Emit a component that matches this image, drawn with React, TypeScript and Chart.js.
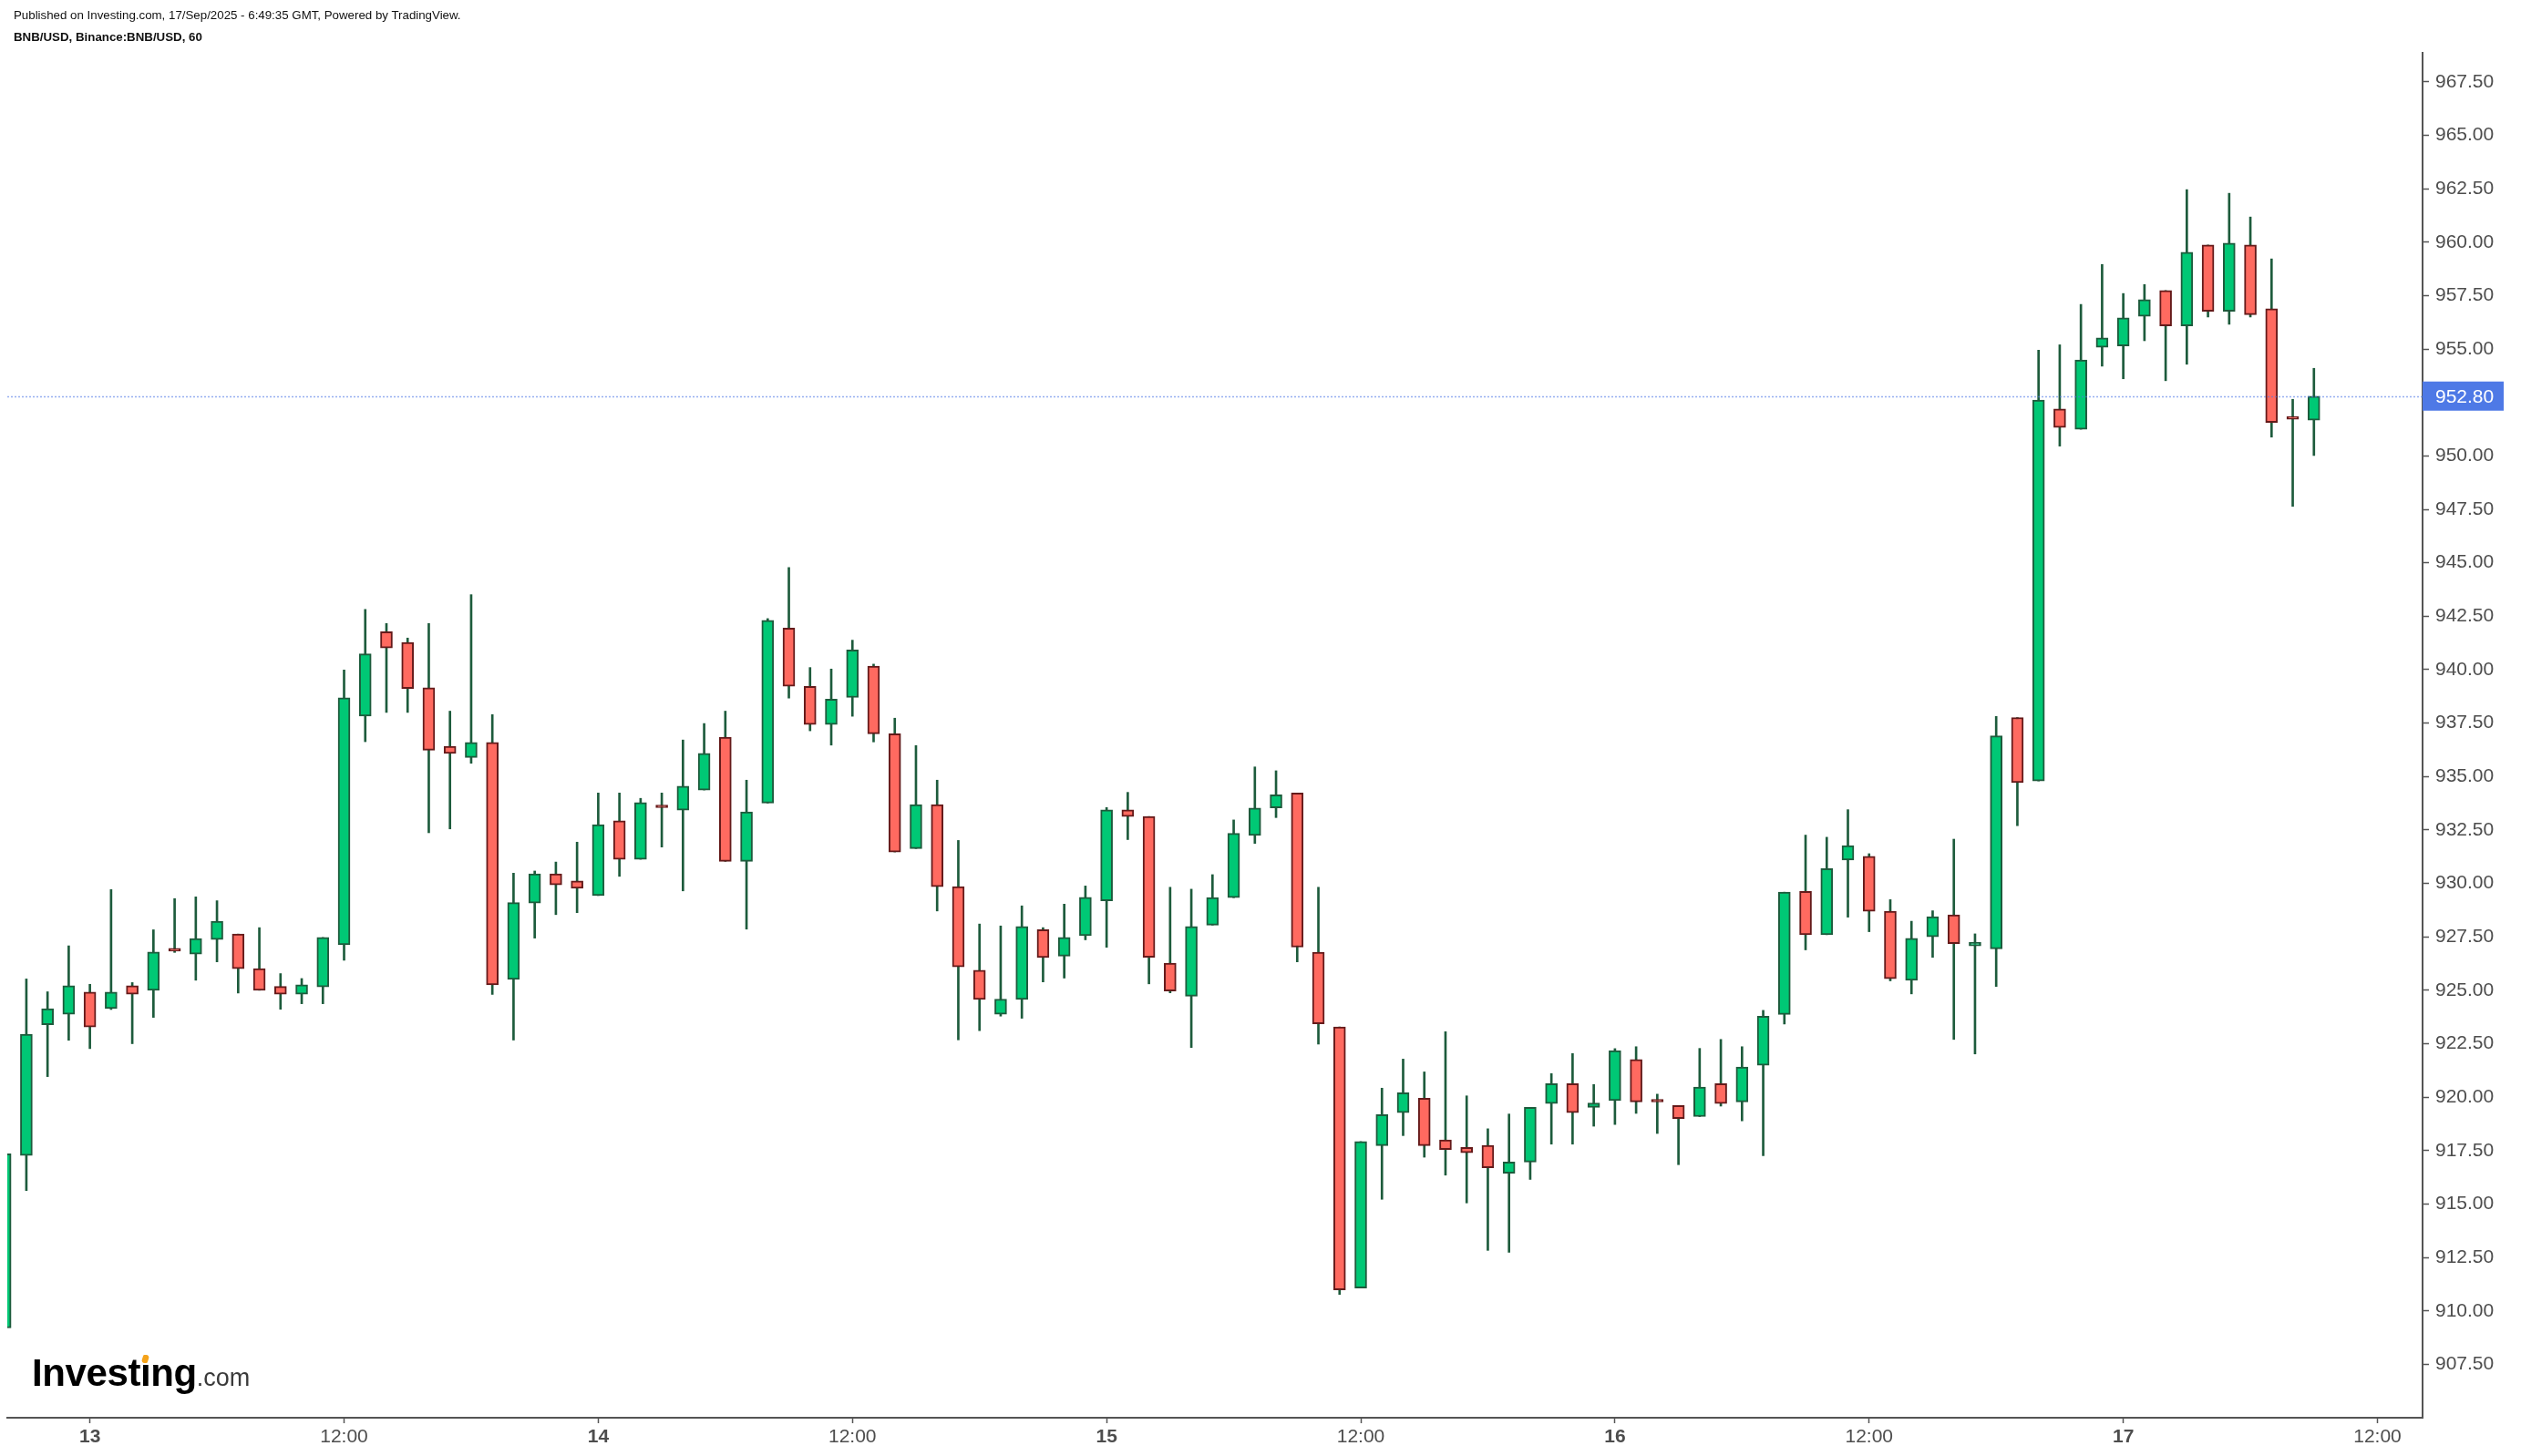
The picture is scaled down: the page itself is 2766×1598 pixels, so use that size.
import React, { useEffect, useRef } from "react";
import { Chart, registerables } from "chart.js";

Chart.register(...registerables);

const W = 2766;
const H = 1598;

// Hourly BNB/USD candles, first candle = 20:00 on 12 Sep
const openPrices = [
  909.2, 917.27, 923.39, 923.88, 924.92, 924.14, 925.21, 925.0, 926.93, 926.69,
  927.37, 927.63, 926.01, 925.18, 924.82, 925.16, 927.13, 937.83, 941.78, 941.27,
  939.15, 936.42, 935.89, 936.6, 925.51, 929.08, 930.45, 930.12, 929.43, 932.93,
  931.13, 933.64, 933.43, 934.37, 936.84, 931.03, 933.76, 941.95, 939.22, 937.43,
  938.7, 940.17, 937.0, 931.63, 933.69, 929.85, 925.94, 923.88, 924.57, 927.84,
  926.6, 927.55, 929.19, 933.44, 933.13, 926.27, 924.72, 928.05, 929.33, 932.24,
  933.53, 934.23, 926.78, 923.28, 911.07, 917.73, 919.27, 919.95, 918.0, 917.65,
  917.74, 916.44, 916.96, 919.7, 920.63, 919.52, 919.84, 921.76, 919.86, 919.61,
  919.09, 920.63, 919.78, 921.49, 923.87, 929.63, 927.6, 931.09, 931.27, 928.7,
  925.47, 927.5, 928.53, 927.08, 926.94, 937.76, 934.79, 952.2, 951.25, 955.08,
  955.15, 956.53, 957.74, 956.09, 959.87, 956.77, 959.87, 956.89, 951.8, 951.67,
];
const highPrices = [
  917.4, 925.53, 924.93, 927.08, 925.28, 929.71, 925.36, 927.83, 929.29, 929.37,
  929.19, 927.63, 927.93, 925.78, 925.55, 927.47, 939.99, 942.82, 942.16, 941.48,
  942.16, 938.06, 943.51, 937.9, 930.48, 930.58, 931.0, 931.93, 934.23, 934.23,
  933.98, 934.23, 936.71, 937.48, 938.06, 934.83, 942.39, 944.78, 940.1, 940.03,
  941.38, 940.26, 937.73, 936.45, 934.83, 932.01, 928.1, 928.01, 928.95, 927.93,
  929.03, 929.88, 933.55, 934.26, 933.13, 929.82, 929.73, 930.41, 932.97, 935.45,
  935.27, 934.23, 929.82, 923.28, 917.92, 920.42, 921.78, 921.18, 923.06, 920.06,
  918.52, 919.21, 919.52, 921.1, 922.04, 920.59, 922.27, 922.36, 920.14, 919.61,
  922.28, 922.7, 922.36, 924.06, 929.59, 932.26, 932.16, 933.45, 931.39, 929.24,
  928.23, 928.72, 932.07, 927.64, 937.81, 937.76, 954.95, 955.2, 957.09, 958.96,
  957.6, 958.02, 957.74, 962.46, 959.87, 962.29, 961.18, 959.22, 952.65, 954.1,
];
const lowPrices = [
  909.1, 915.63, 920.96, 922.66, 922.27, 924.1, 922.5, 923.73, 926.77, 925.47,
  926.33, 924.87, 925.0, 924.11, 924.37, 924.37, 926.4, 936.63, 938.0, 938.0,
  932.37, 932.55, 935.62, 924.8, 922.67, 927.44, 928.54, 928.63, 929.43, 930.33,
  931.13, 931.7, 929.65, 934.37, 931.03, 927.86, 933.76, 938.67, 937.14, 936.47,
  937.82, 936.62, 931.47, 931.63, 928.71, 922.68, 923.11, 923.79, 923.69, 925.39,
  925.57, 927.36, 927.01, 932.05, 925.3, 924.88, 922.32, 928.05, 929.33, 931.87,
  933.08, 926.33, 922.48, 910.77, 911.07, 915.22, 918.2, 917.19, 916.35, 915.05,
  912.83, 912.74, 916.15, 917.8, 917.8, 918.64, 918.72, 919.24, 918.3, 916.84,
  919.09, 919.58, 918.89, 917.26, 923.42, 926.89, 927.6, 928.42, 927.74, 925.44,
  924.83, 926.54, 922.7, 922.02, 925.18, 932.7, 934.79, 950.46, 951.25, 954.2,
  953.61, 955.39, 953.52, 954.29, 956.5, 956.16, 956.5, 950.88, 947.64, 950.02,
];
const closePrices = [
  917.35, 922.94, 924.14, 925.21, 923.28, 924.92, 924.82, 926.79, 926.83, 927.42,
  928.23, 926.01, 925.0, 924.82, 925.26, 927.47, 938.69, 940.74, 941.01, 939.12,
  936.23, 936.08, 936.6, 925.25, 929.1, 930.45, 929.93, 929.77, 932.75, 931.13,
  933.78, 933.54, 934.55, 936.08, 931.03, 933.35, 942.31, 939.22, 937.43, 938.62,
  940.92, 937.0, 931.47, 933.69, 929.85, 926.1, 924.57, 924.59, 927.98, 926.53,
  927.47, 929.35, 933.44, 933.13, 926.54, 924.97, 927.98, 929.34, 932.34, 933.53,
  934.14, 927.02, 923.43, 910.98, 917.92, 919.18, 920.21, 917.73, 917.55, 917.4,
  916.69, 916.96, 919.52, 920.63, 919.27, 919.72, 922.18, 919.78, 919.77, 919.0,
  920.47, 919.7, 921.41, 923.79, 929.59, 927.6, 930.69, 931.77, 928.7, 925.54,
  927.43, 928.44, 927.18, 927.25, 936.9, 934.72, 952.61, 951.33, 954.49, 955.52,
  956.46, 957.31, 956.09, 959.53, 956.77, 959.96, 956.61, 951.57, 951.72, 952.8,
];

const firstCandleHour = 20;
const dayLabels = ["13", "14", "15", "16", "17"];
const priceTicks = [
  907.5, 910, 912.5, 915, 917.5, 920, 922.5, 925, 927.5, 930, 932.5, 935, 937.5,
  940, 942.5, 945, 947.5, 950, 952.5, 955, 957.5, 960, 962.5, 965, 967.5,
];
const lastPrice = closePrices[closePrices.length - 1];

const FONT = "'Liberation Sans', Arial, sans-serif";
const UP_FILL = "#00c875";
const UP_LINE = "#1d5b3c";
const DOWN_FILL = "#ff6a60";
const DOWN_LINE = "#641a1a";
const WICK = "#1d5b3c";
const AXIS = "#555555";
const LABEL = "#4d4d4d";

const isUp = closePrices.map((c, i) => c >= openPrices[i]);

function hourOf(i: number) {
  return (firstCandleHour + i) % 24;
}
function xLabel(i: number) {
  const h = hourOf(i);
  if (h === 0) return dayLabels[Math.floor((firstCandleHour + i) / 24) - 1] || "";
  if (h === 12) return "12:00";
  return "";
}

const priceLinePlugin = {
  id: "priceLine",
  afterDatasetsDraw(chart: any) {
    const { ctx, chartArea, scales } = chart;
    const py = Math.round(scales.y.getPixelForValue(lastPrice)) + 0.5;
    ctx.save();
    ctx.strokeStyle = "rgba(80,120,230,0.6)";
    ctx.lineWidth = 1.5;
    ctx.setLineDash([2, 2]);
    ctx.beginPath();
    ctx.moveTo(chartArea.left, py);
    ctx.lineTo(chartArea.right, py);
    ctx.stroke();
    ctx.restore();
  },
  afterDraw(chart: any) {
    const { ctx, chartArea, scales } = chart;
    const py = scales.y.getPixelForValue(lastPrice);
    ctx.save();
    ctx.fillStyle = "#4e79e6";
    ctx.fillRect(chartArea.right, py - 16, 89, 32);
    ctx.fillStyle = "#ffffff";
    ctx.font = `21px ${FONT}`;
    ctx.textBaseline = "middle";
    ctx.textAlign = "left";
    ctx.fillText(lastPrice.toFixed(2), chartArea.right + 14, py + 1);
    ctx.restore();
  },
};

export default function App() {
  const ref = useRef<HTMLCanvasElement>(null);

  useEffect(() => {
    const canvas = ref.current;
    if (!canvas) return;
    const chart = new Chart(canvas, {
      type: "bar",
      data: {
        datasets: [
          {
            label: "body",
            data: openPrices.map((o, i) => ({ x: i, y: [o, closePrices[i]] })) as any,
            backgroundColor: isUp.map((u) => (u ? UP_FILL : DOWN_FILL)),
            borderColor: isUp.map((u) => (u ? UP_LINE : DOWN_LINE)),
            borderWidth: 2,
            borderSkipped: false,
            barThickness: 13,
            minBarLength: 3,
            grouped: false,
            clip: 0,
            order: 0,
          } as any,
          {
            label: "wick",
            data: lowPrices.map((l, i) => ({ x: i, y: [l, highPrices[i]] })) as any,
            backgroundColor: WICK,
            borderWidth: 0,
            barThickness: 2,
            grouped: false,
            clip: 0,
            order: 1,
          } as any,
        ],
      },
      options: {
        animation: false,
        responsive: false,
        maintainAspectRatio: false,
        devicePixelRatio: 1,
        layout: { padding: { left: 8, top: 58, right: 0, bottom: 0 } },
        plugins: { legend: { display: false }, tooltip: { enabled: false } },
        scales: {
          x: {
            type: "linear",
            min: 0.1,
            max: 114.13,
            offset: false,
            afterBuildTicks: (scale: any) => {
              const ticks: any[] = [];
              for (let i = Math.ceil(scale.min); i <= scale.max; i++) {
                if (xLabel(i)) ticks.push({ value: i });
              }
              scale.ticks = ticks;
            },
            afterFit: (scale: any) => {
              scale.height = 42;
            },
            ticks: {
              autoSkip: false,
              maxRotation: 0,
              padding: 3,
              color: LABEL,
              font: (ctx: any) => ({
                family: FONT,
                size: 21,
                weight: ctx.tick && hourOf(ctx.tick.value) === 0 ? "bold" : "normal",
              }),
              callback: (value: any) => xLabel(Number(value)),
            },
            grid: {
              display: true,
              offset: false,
              drawOnChartArea: false,
              drawTicks: true,
              tickLength: 6,
              tickColor: AXIS,
              tickWidth: 1.5,
            },
            border: { display: true, color: AXIS, width: 2 },
          } as any,
          y: {
            type: "linear",
            position: "right",
            min: 905.0,
            max: 968.86,
            afterBuildTicks: (scale: any) => {
              scale.ticks = priceTicks.map((v) => ({ value: v }));
            },
            afterFit: (scale: any) => {
              scale.width = 108;
            },
            ticks: {
              padding: 7,
              color: LABEL,
              font: { family: FONT, size: 21 },
              callback: (value: any) => Number(value).toFixed(2),
            },
            grid: {
              display: true,
              drawOnChartArea: false,
              drawTicks: true,
              tickLength: 7,
              tickColor: AXIS,
              tickWidth: 1.5,
            },
            border: { display: true, color: AXIS, width: 2 },
          } as any,
        },
      },
      plugins: [priceLinePlugin],
    });
    return () => chart.destroy();
  }, []);

  const textBase: React.CSSProperties = {
    position: "absolute",
    whiteSpace: "nowrap",
    lineHeight: 1,
    fontFamily: FONT,
  };

  return (
    <div
      style={{
        position: "absolute",
        left: 0,
        top: 0,
        width: W,
        height: H,
        background: "#ffffff",
        overflow: "hidden",
      }}
    >
      <canvas
        ref={ref}
        width={W}
        height={H}
        style={{ position: "absolute", left: 0, top: 0, width: W, height: H }}
      />
      <div style={{ ...textBase, left: 15, top: 9.5, fontSize: 13.3, color: "#111" }}>
        Published on Investing.com, 17/Sep/2025 - 6:49:35 GMT, Powered by TradingView.
      </div>
      <div style={{ ...textBase, left: 15, top: 34, fontSize: 13.3, fontWeight: "bold", color: "#111" }}>
        BNB/USD, Binance:BNB/USD, 60
      </div>
      <div style={{ ...textBase, left: 35, top: 1486 }}>
        <span style={{ fontSize: 42, fontWeight: "bold", color: "#000", letterSpacing: -0.4 }}>
          Investıng
        </span>
        <span style={{ fontSize: 27, color: "#3a3a3a" }}>.com</span>
      </div>
      <div
        style={{
          position: "absolute",
          left: 156,
          top: 1487,
          width: 7,
          height: 9,
          background: "#f5a31a",
          borderRadius: "1px 4px 1px 4px",
          transform: "skewX(-18deg)",
        }}
      />
    </div>
  );
}
